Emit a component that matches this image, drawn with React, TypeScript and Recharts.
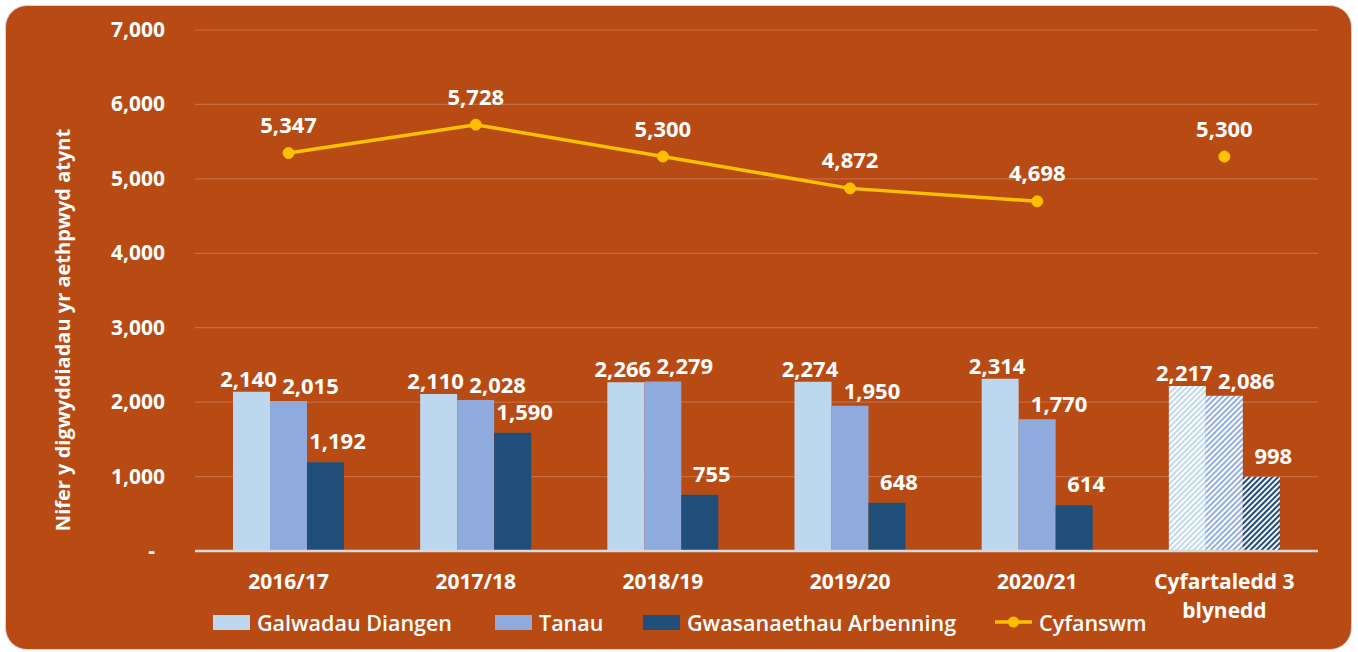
import React from 'react';
import { ComposedChart, Bar, Line, XAxis, YAxis, CartesianGrid, Cell, LabelList } from 'recharts';

const categories = ['2016/17', '2017/18', '2018/19', '2019/20', '2020/21', 'Cyfartaledd 3 blynedd'];
const galwadauDiangen = [2140, 2110, 2266, 2274, 2314, 2217];
const tanau = [2015, 2028, 2279, 1950, 1770, 2086];
const gwasanaethauArbenning = [1192, 1590, 755, 648, 614, 998];
const cyfanswm: (number | null)[] = [5347, 5728, 5300, 4872, 4698, null];
const cyfanswmCyfartaledd: (number | null)[] = [null, null, null, null, null, 5300];
const yTicks = [0, 1000, 2000, 3000, 4000, 5000, 6000, 7000];

const data = categories.map((c, i) => ({
  cat: c,
  galwadau: galwadauDiangen[i],
  tanau: tanau[i],
  gwas: gwasanaethauArbenning[i],
  cyfanswm: cyfanswm[i],
  cyfAvg: cyfanswmCyfartaledd[i],
}));

const FONT = '"Open Sans", Lato, sans-serif';
const BG = '#B84B14';
const C_LIGHT = '#BDD7EE';
const C_MID = '#8FAADC';
const C_DARK = '#1F4E79';
const C_LINE = '#FFC000';

const fmt = (v: number) => v.toLocaleString('en-US');

const makeBarLabel = (dx: number, gap: number) => (props: any) => {
  const { x, y, width, value } = props;
  if (value == null) return null;
  return (
    <text x={x + width / 2 + dx} y={y - gap} textAnchor="middle" fill="#fff" fontFamily={FONT} fontWeight={700} fontSize={22}>
      {fmt(value)}
    </text>
  );
};

const lineLabel = (props: any) => {
  const { x, y, value } = props;
  if (value == null) return null;
  return (
    <text x={x} y={y - 20} textAnchor="middle" fill="#fff" fontFamily={FONT} fontWeight={700} fontSize={22}>
      {fmt(value)}
    </text>
  );
};

const XTick = (props: any) => {
  const { x, y, payload } = props;
  const v: string = payload.value;
  const lines = v === 'Cyfartaledd 3 blynedd' ? ['Cyfartaledd 3', 'blynedd'] : [v];
  return (
    <text x={x} y={y} textAnchor="middle" fill="#fff" fontFamily={FONT} fontWeight={700} fontSize={21}>
      {lines.map((l, i) => (
        <tspan key={i} x={x} dy={i === 0 ? 30 : 29}>{l}</tspan>
      ))}
    </text>
  );
};

const YTick = (props: any) => {
  const { x, y, payload } = props;
  const v = payload.value;
  return (
    <text x={v === 0 ? x - 10 : x} y={y} dy={7} textAnchor="end" fill="#fff" fontFamily={FONT} fontWeight={700} fontSize={21}>
      {v === 0 ? '-' : fmt(v)}
    </text>
  );
};

const legendItems = [
  { name: 'Galwadau Diangen', color: C_LIGHT, left: 213, type: 'box' },
  { name: 'Tanau', color: C_MID, left: 495, type: 'box' },
  { name: 'Gwasanaethau Arbenning', color: C_DARK, left: 643, type: 'box' },
  { name: 'Cyfanswm', color: C_LINE, left: 995, type: 'line' },
];

export default function App() {
  return (
    <div style={{ position: 'absolute', left: 0, top: 0, width: 1358, height: 652, background: '#fff' }}>
      <div
        style={{
          position: 'absolute',
          left: 5,
          top: 5,
          width: 1345,
          height: 643,
          background: BG,
          border: '1.5px solid #D6D6D6',
          borderRadius: 22,
        }}
      />
      <div style={{ position: 'absolute', left: 0, top: 0 }}>
        <ComposedChart
          width={1358}
          height={652}
          data={data}
          margin={{ top: 30, right: 40, bottom: 71, left: 0 }}
          barCategoryGap="20.3%"
          barGap={0}
        >
          <defs>
            <pattern id="hatchLight" width="4" height="4" patternUnits="userSpaceOnUse" patternTransform="rotate(45)">
              <rect width="4" height="4" fill="#fff" />
              <rect width="1.9" height="4" fill={C_LIGHT} />
            </pattern>
            <pattern id="hatchMid" width="4" height="4" patternUnits="userSpaceOnUse" patternTransform="rotate(45)">
              <rect width="4" height="4" fill="#fff" />
              <rect width="1.9" height="4" fill={C_MID} />
            </pattern>
            <pattern id="hatchDark" width="4" height="4" patternUnits="userSpaceOnUse" patternTransform="rotate(45)">
              <rect width="4" height="4" fill="#fff" />
              <rect width="2.1" height="4" fill={C_DARK} />
            </pattern>
          </defs>
          <CartesianGrid vertical={false} stroke="#C96A3F" strokeWidth={1.2} />
          <XAxis
            dataKey="cat"
            height={30}
            axisLine={{ stroke: '#D9D9D9', strokeWidth: 2.5 }}
            tickLine={false}
            interval={0}
            tick={<XTick />}
          />
          <YAxis
            domain={[0, 7000]}
            ticks={yTicks}
            width={195}
            axisLine={false}
            tickLine={false}
            tickMargin={24}
            tick={<YTick />}
          />
          <Bar dataKey="galwadau" fill={C_LIGHT} isAnimationActive={false}>
            {data.map((d, i) => (
              <Cell key={i} fill={i === data.length - 1 ? 'url(#hatchLight)' : C_LIGHT} />
            ))}
            <LabelList dataKey="galwadau" content={makeBarLabel(-3, 5)} />
          </Bar>
          <Bar dataKey="tanau" fill={C_MID} isAnimationActive={false}>
            {data.map((d, i) => (
              <Cell key={i} fill={i === data.length - 1 ? 'url(#hatchMid)' : C_MID} />
            ))}
            <LabelList dataKey="tanau" content={makeBarLabel(22, 7)} />
          </Bar>
          <Bar dataKey="gwas" fill={C_DARK} isAnimationActive={false}>
            {data.map((d, i) => (
              <Cell key={i} fill={i === data.length - 1 ? 'url(#hatchDark)' : C_DARK} />
            ))}
            <LabelList dataKey="gwas" content={makeBarLabel(12, 13)} />
          </Bar>
          <Line
            dataKey="cyfanswm"
            stroke={C_LINE}
            strokeWidth={3.5}
            dot={{ r: 5.5, fill: C_LINE, stroke: C_LINE, strokeWidth: 1 }}
            activeDot={false}
            isAnimationActive={false}
          >
            <LabelList dataKey="cyfanswm" content={lineLabel} />
          </Line>
          <Line
            dataKey="cyfAvg"
            stroke="none"
            dot={{ r: 5.5, fill: C_LINE, stroke: C_LINE, strokeWidth: 1 }}
            activeDot={false}
            isAnimationActive={false}
          >
            <LabelList dataKey="cyfAvg" content={lineLabel} />
          </Line>
          <text
            x={62}
            y={330}
            transform="rotate(-90, 62, 330)"
            textAnchor="middle"
            dominantBaseline="central"
            fill="#fff"
            fontFamily={FONT}
            fontWeight={700}
            fontSize={20}
          >
            Nifer y digwyddiadau yr aethpwyd atynt
          </text>
        </ComposedChart>
      </div>
      {legendItems.map((it) => (
        <div
          key={it.name}
          style={{
            position: 'absolute',
            left: it.left,
            top: 608,
            height: 28,
            display: 'flex',
            alignItems: 'center',
            fontFamily: FONT,
            fontSize: 21.5,
            fontWeight: 600,
            color: '#fff',
            whiteSpace: 'nowrap',
          }}
        >
          {it.type === 'box' ? (
            <span style={{ display: 'inline-block', width: 37, height: 15, background: it.color, marginRight: 7 }} />
          ) : (
            <svg width={37} height={14} style={{ marginRight: 7 }}>
              <line x1={0} y1={7} x2={37} y2={7} stroke={it.color} strokeWidth={3.5} />
              <circle cx={18.5} cy={7} r={5.5} fill={it.color} />
            </svg>
          )}
          <span>{it.name}</span>
        </div>
      ))}
    </div>
  );
}
